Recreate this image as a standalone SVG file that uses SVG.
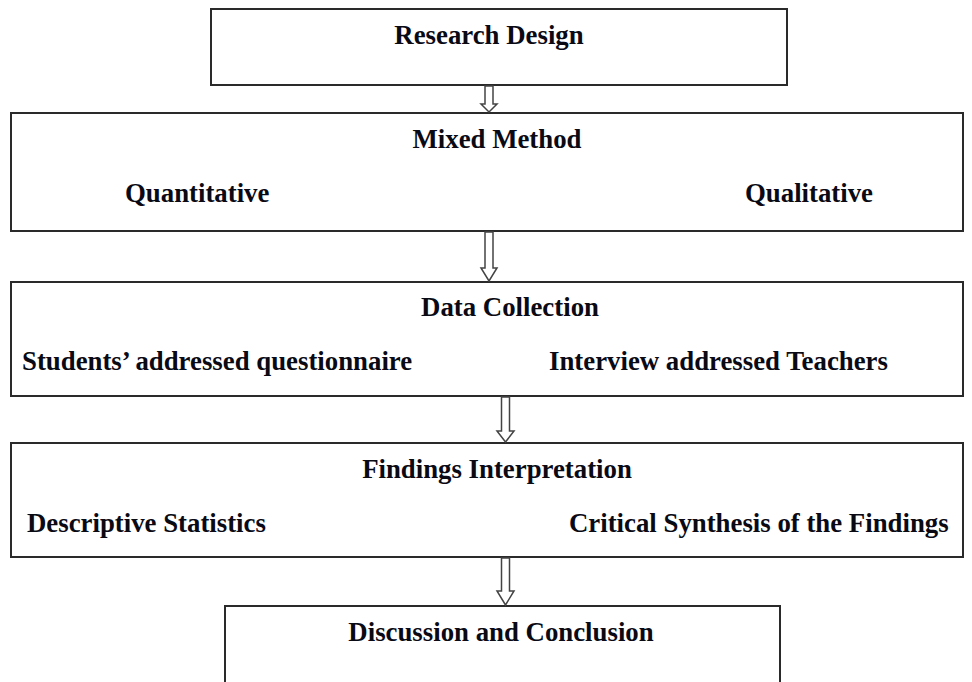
<svg xmlns="http://www.w3.org/2000/svg" width="972" height="682" viewBox="0 0 972 682">
<style>
.box{fill:#fff;stroke:#2a2a2a;stroke-width:2}
.t{font-family:"Liberation Serif","Times New Roman",serif;font-weight:bold;font-size:26.8px;fill:#0a0a14}
.m{text-anchor:middle}
.arr{fill:#fff;stroke:#444;stroke-width:1.5;stroke-linejoin:miter}
</style>
<rect width="972" height="682" fill="#fff"/>
<g id="research-design">
<rect class="box" x="211" y="9" width="576" height="76"/>
<text class="t m" x="489" y="44">Research Design</text>
</g>
<g id="mixed-method">
<rect class="box" x="11" y="113" width="952" height="118"/>
<text class="t m" x="497" y="148">Mixed Method</text>
<text class="t" x="125" y="202">Quantitative</text>
<text class="t" x="745" y="202">Qualitative</text>
</g>
<g id="data-collection">
<rect class="box" x="11" y="282" width="952" height="114"/>
<text class="t m" x="510" y="316">Data Collection</text>
<text class="t" x="22" y="370">Students’ addressed questionnaire</text>
<text class="t" x="549" y="370">Interview addressed Teachers</text>
</g>
<g id="findings-interpretation">
<rect class="box" x="11" y="443" width="952" height="114"/>
<text class="t m" x="497" y="478">Findings Interpretation</text>
<text class="t" x="27" y="532">Descriptive Statistics</text>
<text class="t" x="569" y="532">Critical Synthesis of the Findings</text>
</g>
<g id="discussion-conclusion">
<rect class="box" x="225" y="606" width="555" height="100"/>
<text class="t m" x="501" y="641">Discussion and Conclusion</text>
</g>
<g id="connectors">
<path class="arr" d="M485,86 L493,86 L493,104 L497,104 L489,112 L481,104 L485,104 Z"/>
<path class="arr" d="M485,232 L493,232 L493,268 L497,268 L489,281 L481,268 L485,268 Z"/>
<path class="arr" d="M501.5,397 L509.5,397 L509.5,431 L514,431 L505.5,442 L497,431 L501.5,431 Z"/>
<path class="arr" d="M501.5,558 L509.5,558 L509.5,591 L514,591 L505.5,605 L497,591 L501.5,591 Z"/>
</g>
</svg>
